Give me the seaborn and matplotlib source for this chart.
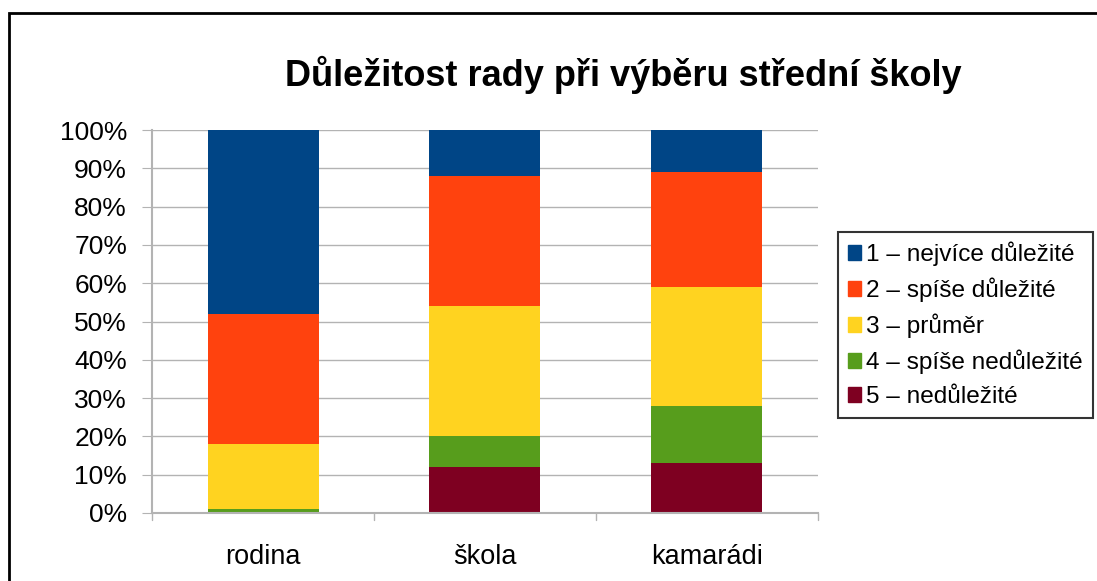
import pandas as pd
import matplotlib.pyplot as plt
import matplotlib.patches as mpatches
import seaborn as sns

# Data (percent of answers)
categories = ['rodina', 'škola', 'kamarádi']
levels = ['1 – nejvíce důležité', '2 – spíše důležité', '3 – průměr',
          '4 – spíše nedůležité', '5 – nedůležité']
v1 = [48, 12, 11]
v2 = [34, 34, 30]
v3 = [17, 34, 31]
v4 = [1, 8, 15]
v5 = [0, 12, 13]
colors = ['#004586', '#FF420E', '#FFD320', '#579D1C', '#7E0021']

sns.set_style('white')
plt.rcParams['font.family'] = ['Liberation Sans', 'DejaVu Sans']
plt.rcParams['text.color'] = 'black'
plt.rcParams['xtick.color'] = 'black'
plt.rcParams['ytick.color'] = 'black'

series = [v1, v2, v3, v4, v5]
df = pd.DataFrame({lvl: s for lvl, s in zip(levels, series)}, index=categories)

fig = plt.figure(figsize=(10.97, 5.81), dpi=100)
ax = fig.add_axes([152 / 1097, 68 / 581, 666 / 1097, 383 / 581])

# stacked bars: draw cumulative tops, top segment first
for i, lvl in enumerate(levels):
    top = df[levels[i:]].sum(axis=1)
    sns.barplot(x=categories, y=top.values, color=colors[i], width=0.5,
                ax=ax, zorder=2, saturation=1, linewidth=0)

ax.set_ylim(0, 100)
ax.set_xlim(-0.5, 2.5)
ax.set_yticks(range(0, 101, 10))
ax.set_yticklabels([f'{t}%' for t in range(0, 101, 10)], fontsize=19)
ax.tick_params(axis='x', labelsize=19.5, length=0, pad=22, labelcolor='black')
ax.tick_params(axis='y', length=7, color='#b3b3b3', left=True, pad=11,
               labelcolor='black')
ax.yaxis.grid(True, color='#b3b3b3', linewidth=1, zorder=0)
ax.set_axisbelow(True)
for s in ['top', 'right']:
    ax.spines[s].set_visible(False)
for s in ['left', 'bottom']:
    ax.spines[s].set_color('#b3b3b3')
    ax.spines[s].set_linewidth(1.5)
# category separators below x axis
for xb in [-0.5, 0.5, 1.5, 2.5]:
    ax.plot([xb, xb], [0, -1.8], color='#b3b3b3', lw=1, clip_on=False)

fig.text(623 / 1097, 1 - 75 / 581, 'Důležitost rady při výběru střední školy',
         ha='center', va='center', fontsize=26, fontweight='bold', color='black')

handles = [mpatches.Patch(color=c, label=l) for c, l in zip(colors, levels)]
fig.legend(handles=handles, loc='upper left', bbox_to_anchor=(838 / 1097, 1 - 232 / 581),
           frameon=True, fancybox=False, edgecolor='black', fontsize=17.6,
           handlelength=0.55, handleheight=0.55, handletextpad=0.2,
           labelspacing=0.47, borderpad=0.4, borderaxespad=0)
leg = fig.legends[0]
leg.get_frame().set_linewidth(1.5)

# outer chart border (cropped on right and bottom)
fig.patches.append(mpatches.Rectangle((9 / 1097, -0.2), 1.5, 1.2 - 13 / 581,
                                      transform=fig.transFigure, fill=False,
                                      edgecolor='black', linewidth=2))

fig.savefig('out.png', dpi=100)
